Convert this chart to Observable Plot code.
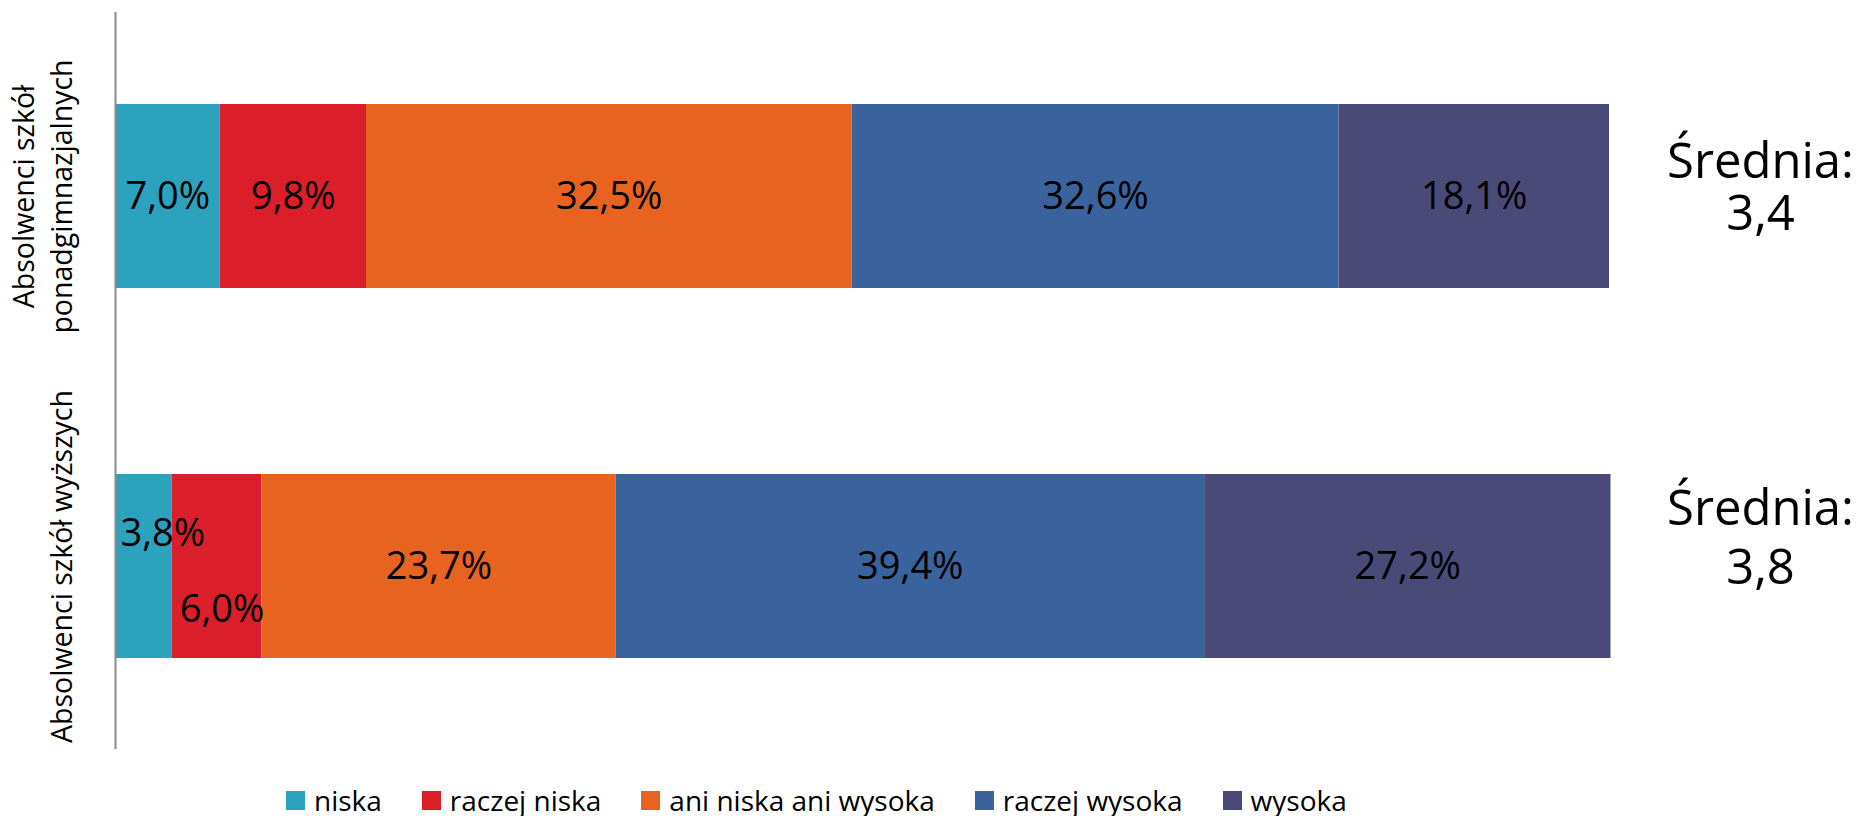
<!DOCTYPE html>
<html>
<head>
<meta charset="utf-8">
<script src="https://cdn.jsdelivr.net/npm/d3@7"></script>
<script src="https://cdn.jsdelivr.net/npm/@observablehq/plot@0.6"></script>
<style>
  html, body { margin: 0; padding: 0; background: #fff; overflow: hidden; }
  #chart { width: 1858px; }
  .lg-swatches { margin-left: 286px !important; margin-top: 15px !important; margin-bottom: 0 !important; min-height: 30px !important; line-height: 1.1 !important; font-family: "Open Sans", sans-serif !important; font-size: 28px !important; color: #000; display: flex; align-items: center; }
  .lg-swatch { margin-right: 40px !important; display: inline-flex; align-items: center; }
  .lg-swatch > svg { margin-right: 9px !important; }
</style>
</head>
<body>
<div id="chart"></div>
<script>
// ---- data ----
const groups = ["Absolwenci szkół ponadgimnazjalnych", "Absolwenci szkół wyższych"];
const groupLabels = ["Absolwenci szkół\nponadgimnazjalnych", "Absolwenci szkół wyższych"];
const levels = ["niska", "raczej niska", "ani niska ani wysoka", "raczej wysoka", "wysoka"];
const valuesPonadgimnazjalne = [7.0, 9.8, 32.5, 32.6, 18.1];
const valuesWyzsze = [3.8, 6.0, 23.7, 39.4, 27.2];
const means = [3.4, 3.8];
const meanPrefix = "Średnia:";
const colors = ["#2ca2be", "#da1f2a", "#e8631f", "#3a639d", "#494a78"];

// ---- table built from arrays ----
const seriesByGroup = [valuesPonadgimnazjalne, valuesWyzsze];
const rows = [];
groups.forEach((g, gi) => {
  seriesByGroup[gi].forEach((v, li) => rows.push({group: g, gi, level: levels[li], value: v, li}));
});
const fmt = v => v.toFixed(1).replace(".", ",") + "%";

// Excel-style overlap avoidance for narrow segments
const narrow = d => d.value < 5;
const afterNarrow = d => d.li > 0 && narrow({value: seriesByGroup[d.gi][d.li - 1]});
const normal = d => !narrow(d) && !afterNarrow(d);

const meanRows = groups.map((g, i) => ({group: g, i, text: meanPrefix + "\n" + means[i].toFixed(1).replace(".", ",")}));
const axisRows = groups.map((g, i) => ({group: g, text: groupLabels[i]}));

const font = '"Open Sans", sans-serif';
const labelOpts = {x: "value", y: "group", order: null, text: d => fmt(d.value), fontSize: 38, fontWeight: 500, fill: "#000"};

const plot = Plot.plot({
  width: 1858,
  height: 770,
  marginLeft: 115,
  marginRight: 249,
  marginTop: 12,
  marginBottom: 21,
  style: {fontFamily: font, background: "#fff"},
  x: {domain: [0, 100], axis: null},
  y: {domain: groups, axis: null, paddingInner: 0.503, paddingOuter: 0.247},
  color: {domain: levels, range: colors},
  marks: [
    Plot.barX(rows, Plot.stackX({x: "value", y: "group", fill: "level", order: null})),
    Plot.ruleX([0], {stroke: "#8a8a8a", strokeWidth: 2}),
    // filter applied after stacking so positions stay correct
    Plot.text(rows, Plot.filter(normal, Plot.stackX({...labelOpts}))),
    Plot.text(rows, Plot.filter(narrow, Plot.stackX({...labelOpts, dx: 19, dy: -33}))),
    Plot.text(rows, Plot.filter(afterNarrow, Plot.stackX({...labelOpts, dx: 5, dy: 43}))),
    // category labels (rotated)
    Plot.text(axisRows, {
      y: "group", text: "text", frameAnchor: "left", dx: -44,
      rotate: -90, textAnchor: "middle", lineAnchor: "bottom", lineHeight: 1.32,
      fontSize: 28.5, fill: "#000"
    }),
    // mean annotations
    Plot.text(meanRows, {
      filter: d => d.i === 0,
      y: "group", text: "text", frameAnchor: "right", dx: 151, dy: 33,
      textAnchor: "middle", lineAnchor: "bottom", lineHeight: 1.06,
      fontSize: 49, fill: "#000"
    }),
    Plot.text(meanRows, {
      filter: d => d.i === 1,
      y: "group", text: "text", frameAnchor: "right", dx: 151, dy: 17,
      textAnchor: "middle", lineAnchor: "bottom", lineHeight: 1.2,
      fontSize: 49, fill: "#000"
    })
  ]
});

const legend = plot.legend("color", {className: "lg", swatchSize: 19});
const root = document.getElementById("chart");
root.appendChild(plot);
root.appendChild(legend);
</script>
</body>
</html>
